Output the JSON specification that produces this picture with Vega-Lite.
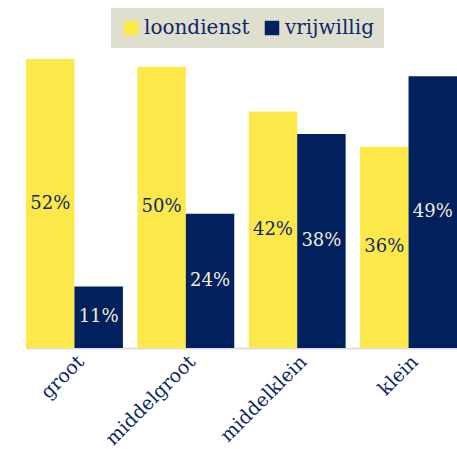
{
  "$schema": "https://vega.github.io/schema/vega-lite/v6.json",
  "autosize": "none",
  "width": 431,
  "height": 308,
  "padding": {"left": 26, "top": 40, "right": 0, "bottom": 101},
  "background": "white",
  "config": {"view": {"stroke": null}},
  "data": {"values": [
    {"categorie": "groot", "type": "loondienst", "aandeel": 0.517},
    {"categorie": "groot", "type": "vrijwillig", "aandeel": 0.110},
    {"categorie": "middelgroot", "type": "loondienst", "aandeel": 0.503},
    {"categorie": "middelgroot", "type": "vrijwillig", "aandeel": 0.240},
    {"categorie": "middelklein", "type": "loondienst", "aandeel": 0.423},
    {"categorie": "middelklein", "type": "vrijwillig", "aandeel": 0.383},
    {"categorie": "klein", "type": "loondienst", "aandeel": 0.360},
    {"categorie": "klein", "type": "vrijwillig", "aandeel": 0.486}
  ]},
  "encoding": {
    "x": {"field": "categorie", "type": "nominal", "sort": ["groot", "middelgroot", "middelklein", "klein"],
      "scale": {"paddingInner": 0.13, "paddingOuter": 0},
      "axis": {"title": null, "labelAngle": -45, "labelAlign": "right", "labelBaseline": "top", "labelFont": "DejaVu Serif", "labelFontSize": 19, "labelColor": "#0e2766", "ticks": false, "domainColor": "#dddddd", "domainWidth": 2, "labelPadding": 4}},
    "xOffset": {"field": "type", "type": "nominal", "sort": ["loondienst", "vrijwillig"]}
  },
  "layer": [
    {
      "mark": {"type": "bar"},
      "encoding": {
        "y": {"field": "aandeel", "type": "quantitative", "scale": {"domain": [0, 0.551], "nice": false}, "axis": null},
        "color": {"field": "type", "type": "nominal", "sort": ["loondienst", "vrijwillig"],
          "scale": {"domain": ["loondienst", "vrijwillig"], "range": ["#fde84a", "#00205e"]},
          "legend": {"title": null, "orient": "none", "legendX": 85, "legendY": -32, "direction": "horizontal",
            "fillColor": "#dfdfd0", "padding": 10, "symbolType": "square", "symbolSize": 210, "symbolStrokeWidth": 0,
            "labelFont": "DejaVu Serif", "labelFontSize": 20, "labelColor": "#0e2766", "labelOffset": 3, "columnPadding": 12}}
      }
    },
    {
      "mark": {"type": "text", "font": "DejaVu Serif", "fontSize": 18, "baseline": "middle", "align": "center"},
      "encoding": {
        "y": {"field": "aandeel", "type": "quantitative", "scale": {"domain": [0, 1.102], "nice": false}, "axis": null},
        "text": {"field": "aandeel", "type": "quantitative", "format": ".0%"},
        "color": {"field": "type", "type": "nominal", "scale": {"domain": ["loondienst", "vrijwillig"], "range": ["#0e2766", "#f3eed6"]}, "legend": null}
      }
    }
  ],
  "resolve": {"scale": {"y": "independent", "color": "independent"}}
}
